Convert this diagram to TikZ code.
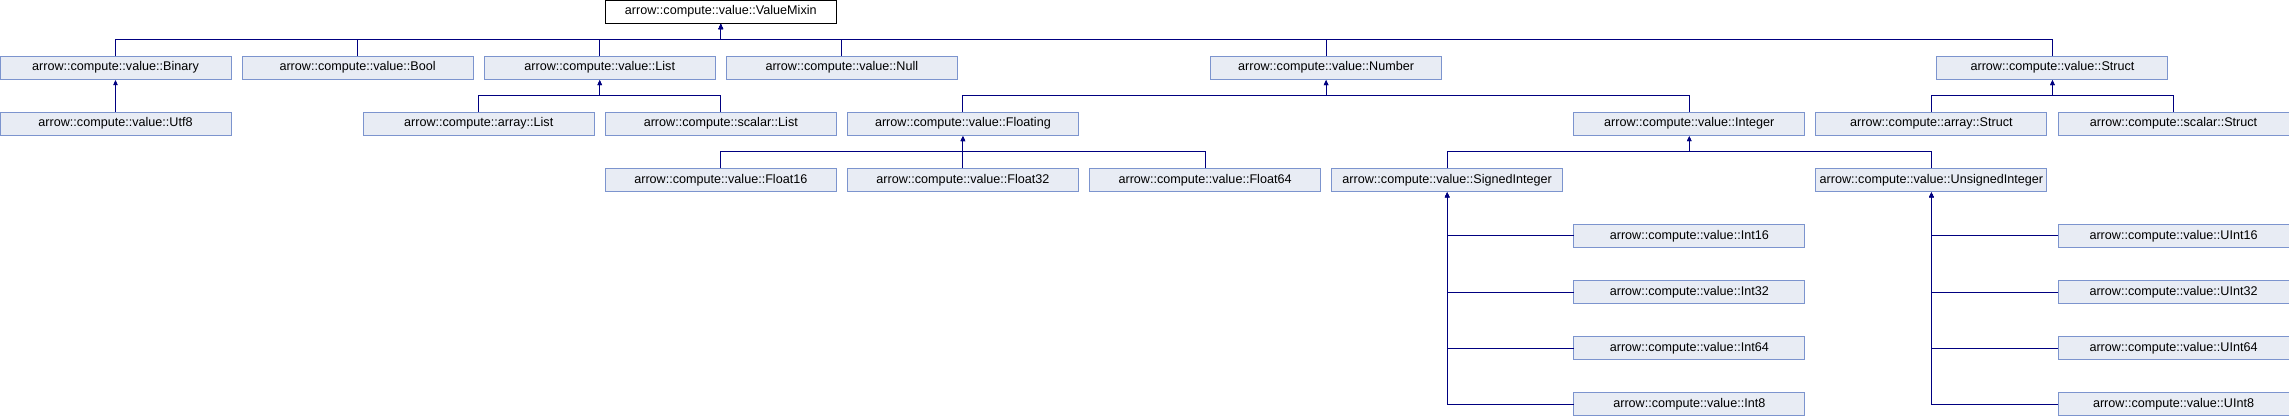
\documentclass[tikz,border=0pt]{standalone}
\usepackage{fontspec}
\setmainfont{Liberation Sans}
\usetikzlibrary{arrows.meta, positioning}
\definecolor{boxfill}{RGB}{232,236,244}
\definecolor{boxline}{RGB}{124,148,206}
\definecolor{edgeblue}{RGB}{0,0,128}

\begin{document}
\begin{tikzpicture}[x=121.06pt, y=-56.1pt, node distance=33.1pt,
    cls/.style={draw=boxline, fill=boxfill, line width=1pt, outer sep=0pt, inner sep=0pt, minimum width=231pt, minimum height=23pt, anchor=north west, font=\fontsize{12.6}{15}\selectfont},
    root/.style={cls, draw=black, fill=white},
    inh/.style={draw=edgeblue, line width=1pt, -{Triangle[length=5pt, width=4.5pt]}, shorten >=1pt}]
    \useasboundingbox (0pt,0pt) rectangle (2289pt,-416pt);

    \node[root] (valuemixin) at (5,0) {arrow::compute::value::ValueMixin};

    \node[cls] (binary) at (0,1) {arrow::compute::value::Binary};
    \node[cls] (bool) at (2,1) {arrow::compute::value::Bool};
    \node[cls] (list) at (4,1) {arrow::compute::value::List};
    \node[cls] (null) at (6,1) {arrow::compute::value::Null};
    \node[cls] (number) at (10,1) {arrow::compute::value::Number};
    \node[cls] (struct) at (16,1) {arrow::compute::value::Struct};

    \node[cls] (utf8) [below=of binary] {arrow::compute::value::Utf8};
    \node[cls] (arraylist) at (3,2) {arrow::compute::array::List};
    \node[cls] (scalarlist) at (5,2) {arrow::compute::scalar::List};
    \node[cls] (floating) at (7,2) {arrow::compute::value::Floating};
    \node[cls] (integer) at (13,2) {arrow::compute::value::Integer};
    \node[cls] (arraystruct) at (15,2) {arrow::compute::array::Struct};
    \node[cls] (scalarstruct) at (17,2) {arrow::compute::scalar::Struct};

    \node[cls] (float16) at (5,3) {arrow::compute::value::Float16};
    \node[cls] (float32) [below=of floating] {arrow::compute::value::Float32};
    \node[cls] (float64) at (9,3) {arrow::compute::value::Float64};
    \node[cls] (signedint) at (11,3) {arrow::compute::value::SignedInteger};
    \node[cls] (unsignedint) at (15,3) {arrow::compute::value::UnsignedInteger};

    \node[cls] (int16) at (13,4) {arrow::compute::value::Int16};
    \node[cls] (int32) [below=of int16] {arrow::compute::value::Int32};
    \node[cls] (int64) [below=of int32] {arrow::compute::value::Int64};
    \node[cls] (int8) [below=of int64] {arrow::compute::value::Int8};
    \node[cls] (uint16) at (17,4) {arrow::compute::value::UInt16};
    \node[cls] (uint32) [below=of uint16] {arrow::compute::value::UInt32};
    \node[cls] (uint64) [below=of uint32] {arrow::compute::value::UInt64};
    \node[cls] (uint8) [below=of uint64] {arrow::compute::value::UInt8};

    \foreach \c in {binary, bool, list, null, number, struct}
        \draw[inh] (\c.north) -- ++(0,16.55pt) -| (valuemixin.south);
    \draw[inh] (utf8.north) -- (binary.south);
    \foreach \c in {arraylist, scalarlist}
        \draw[inh] (\c.north) -- ++(0,16.55pt) -| (list.south);
    \foreach \c in {floating, integer}
        \draw[inh] (\c.north) -- ++(0,16.55pt) -| (number.south);
    \foreach \c in {arraystruct, scalarstruct}
        \draw[inh] (\c.north) -- ++(0,16.55pt) -| (struct.south);
    \foreach \c in {float16, float32, float64}
        \draw[inh] (\c.north) -- ++(0,16.55pt) -| (floating.south);
    \foreach \c in {signedint, unsignedint}
        \draw[inh] (\c.north) -- ++(0,16.55pt) -| (integer.south);
    \foreach \c in {int16, int32, int64, int8}
        \draw[inh] (\c.west) -| (signedint.south);
    \foreach \c in {uint16, uint32, uint64, uint8}
        \draw[inh] (\c.west) -| (unsignedint.south);
\end{tikzpicture}
\end{document}
